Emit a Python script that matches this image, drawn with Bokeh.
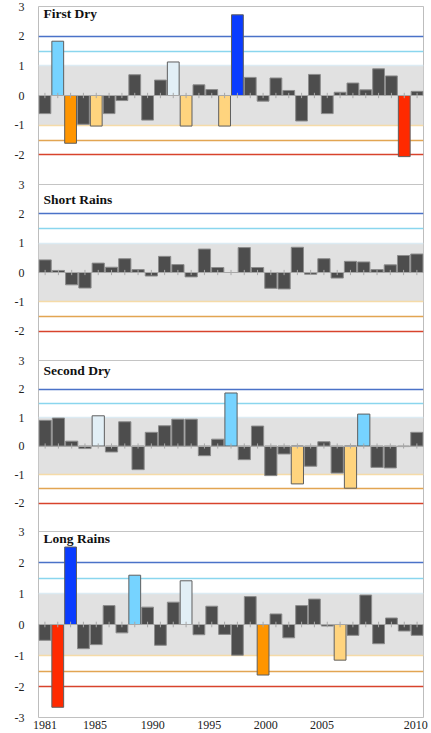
from bokeh.plotting import figure
from bokeh.models import Range1d, FixedTicker, ColumnDataSource, Label
from bokeh.embed import file_html
from bokeh.resources import INLINE

# ---------------- data ----------------
years_30 = list(range(1981, 2011))   # First Dry, Long Rains
years_29 = list(range(1981, 2010))   # Short Rains, Second Dry

first_dry = [-0.61, 1.83, -1.61, -0.97, -1.03, -0.61, -0.17, 0.70, -0.83, 0.52,
             1.13, -1.03, 0.36, 0.20, -1.03, 2.72, 0.61, -0.19, 0.59, 0.17,
             -0.86, 0.71, -0.61, 0.11, 0.42, 0.19, 0.90, 0.66, -2.06, 0.14]

short_rains = [0.43, 0.07, -0.42, -0.53, 0.32, 0.18, 0.47, 0.10, -0.12, 0.55,
               0.27, -0.15, 0.80, 0.17, 0.0, 0.85, 0.17, -0.54, -0.56, 0.86,
               -0.06, 0.47, -0.19, 0.38, 0.36, 0.10, 0.26, 0.58, 0.63]

second_dry = [0.90, 0.98, 0.17, -0.09, 1.06, -0.21, 0.85, -0.83, 0.48, 0.71,
              0.94, 0.94, -0.34, 0.24, 1.86, -0.48, 0.70, -1.04, -0.28, -1.33,
              -0.71, 0.15, -0.95, -1.48, 1.12, -0.75, -0.77, -0.02, 0.48]

long_rains = [-0.51, -2.67, 2.50, -0.78, -0.65, 0.61, -0.27, 1.59, 0.56, -0.67,
              0.72, 1.41, -0.33, 0.59, -0.32, -0.99, 0.90, -1.63, 0.34, -0.43,
              0.61, 0.82, -0.05, -1.15, -0.35, 0.95, -0.62, 0.21, -0.21, -0.35]

panel_names = ["First Dry", "Short Rains", "Second Dry", "Long Rains"]
panel_years = [years_30, years_29, years_29, years_30]
panel_values = [first_dry, short_rains, second_dry, long_rains]

# SPI class for bars whose shading differs from the plain threshold rule
class_overrides = {"Second Dry": {1998: "normal", 2005: "very wet"}}

x_tick_labels = ["1981", "1985", "1990", "1995", "2000", "2005", "2010"]
y_ticks_upper = [-2, -1, 0, 1, 2, 3]
y_ticks_bottom = [-3, -2, -1, 0, 1, 2, 3]
threshold_levels = [2, 1.5, 1, -1, -1.5, -2]

# ---------------- styles / layout ----------------
FONT = "Liberation Serif"
class_colors = {
    "extremely wet": "#0a3cff",
    "very wet": "#76d3ff",
    "moderately wet": "#e2eff6",
    "normal": "#4d4d4d",
    "moderately dry": "#ffd47e",
    "severely dry": "#ff9500",
    "extremely dry": "#ff2a00",
}
threshold_colors = ["#4a72c8", "#8ad6ee", "#dcebf3", "#f5dba8", "#e2a552", "#d8432c"]
panel_heights = [178, 176, 171, 186]           # relative heights, top to bottom
title_y = [2.76, 2.49, 2.65, 2.77]             # title centre in SPI units
x_tick_pos = [1981.0, 1984.9, 1989.4, 1993.8, 1998.2, 2002.6, 2009.9]


def classify(v):
    if v >= 2:
        return "extremely wet"
    if v >= 1.5:
        return "very wet"
    if v >= 1:
        return "moderately wet"
    if v > -1:
        return "normal"
    if v > -1.5:
        return "moderately dry"
    if v > -2:
        return "severely dry"
    return "extremely dry"


total_h = sum(panel_heights)
bottoms = []
acc = total_h
for h in panel_heights:
    acc -= h
    bottoms.append(acc)

p = figure(width=431, height=733, output_backend="svg", toolbar_location=None,
           x_range=Range1d(1980.5, 2010.5), y_range=Range1d(0, total_h),
           min_border_left=38, min_border_right=8, min_border_top=6,
           min_border_bottom=16, background_fill_color="white")
p.xgrid.visible = False
p.ygrid.visible = False
p.outline_line_color = "#bdbdbd"
p.outline_line_width = 1

p.extra_x_ranges = {"x29": Range1d(1980.5, 2009.5)}

y_tick_positions = []
y_overrides = {}

for k, name in enumerate(panel_names):
    b, h = bottoms[k], panel_heights[k]
    rn = "p%d" % k
    p.extra_y_ranges[rn] = Range1d(-3 - 6.0 * b / h, -3 + 6.0 * (total_h - b) / h)
    yrs = panel_years[k]
    vals = panel_values[k]
    xrn = "default" if len(yrs) == 30 else "x29"

    ticks = y_ticks_bottom if k == len(panel_names) - 1 else y_ticks_upper
    for v in ticks:
        pos = b + (v + 3) / 6.0 * h
        y_tick_positions.append(pos)
        y_overrides[pos] = str(v)

    # normal band
    p.hstrip(y0=[-1], y1=[1], fill_color="#e1e1e1", line_color=None,
             y_range_name=rn)
    # threshold lines
    p.hspan(y=threshold_levels, line_color=threshold_colors, line_width=1.3,
            y_range_name=rn)
    # panel border
    p.hspan(y=[-3, 3], line_color="#c4c4c4", line_width=1, y_range_name=rn)

    ov = class_overrides.get(name, {})
    classes = [ov.get(yr, classify(v)) for yr, v in zip(yrs, vals)]
    fills = [class_colors[c] for c in classes]
    outlines = ["#8c8c8c" if c == "normal" else "#5f5f5f" for c in classes]
    src = ColumnDataSource(dict(x=yrs, top=vals, fill=fills, outline=outlines))
    p.vbar(x="x", top="top", bottom=0, width=0.92, source=src,
           fill_color="fill", line_color="outline", line_width=1,
           x_range_name=xrn, y_range_name=rn)

    # category axis at zero
    p.hspan(y=[0], line_color="#a8a8a8", line_width=1, y_range_name=rn)
    p.segment(x0=yrs, y0=-0.09, x1=yrs, y1=0.09, line_color="#a8a8a8",
              line_width=1, x_range_name=xrn, y_range_name=rn)

    p.add_layout(Label(x=1980.5, y=title_y[k], x_offset=5, y_range_name=rn,
                       text=name, text_font=FONT, text_font_style="bold",
                       text_font_size="13.5px", text_baseline="middle",
                       text_color="#111111"))
    p.add_layout(Label(x=1980.5, y=0, x_offset=-30, y_range_name=rn,
                       text="SPI", text_font=FONT, text_font_size="12px",
                       text_align="center", text_baseline="middle",
                       angle=1.5707963, text_color="#222222"))

yax = p.yaxis[0]
yax.ticker = FixedTicker(ticks=y_tick_positions)
yax.major_label_overrides = y_overrides
yax.axis_line_color = None
yax.major_tick_line_color = None
yax.minor_tick_line_color = None
yax.major_tick_out = 0
yax.major_label_standoff = 14
yax.major_label_text_font = FONT
yax.major_label_text_font_size = "12px"
yax.major_label_text_color = "#222222"

xax = p.xaxis[0]
xax.ticker = FixedTicker(ticks=x_tick_pos)
xax.major_label_overrides = {pos: lab for pos, lab in zip(x_tick_pos, x_tick_labels)}
xax.axis_line_color = None
xax.major_tick_line_color = None
xax.minor_tick_line_color = None
xax.major_tick_out = 0
xax.major_label_standoff = 3
xax.major_label_text_font = FONT
xax.major_label_text_font_size = "12px"
xax.major_label_text_color = "#222222"

open("out.html", "w").write(file_html(p, INLINE))
